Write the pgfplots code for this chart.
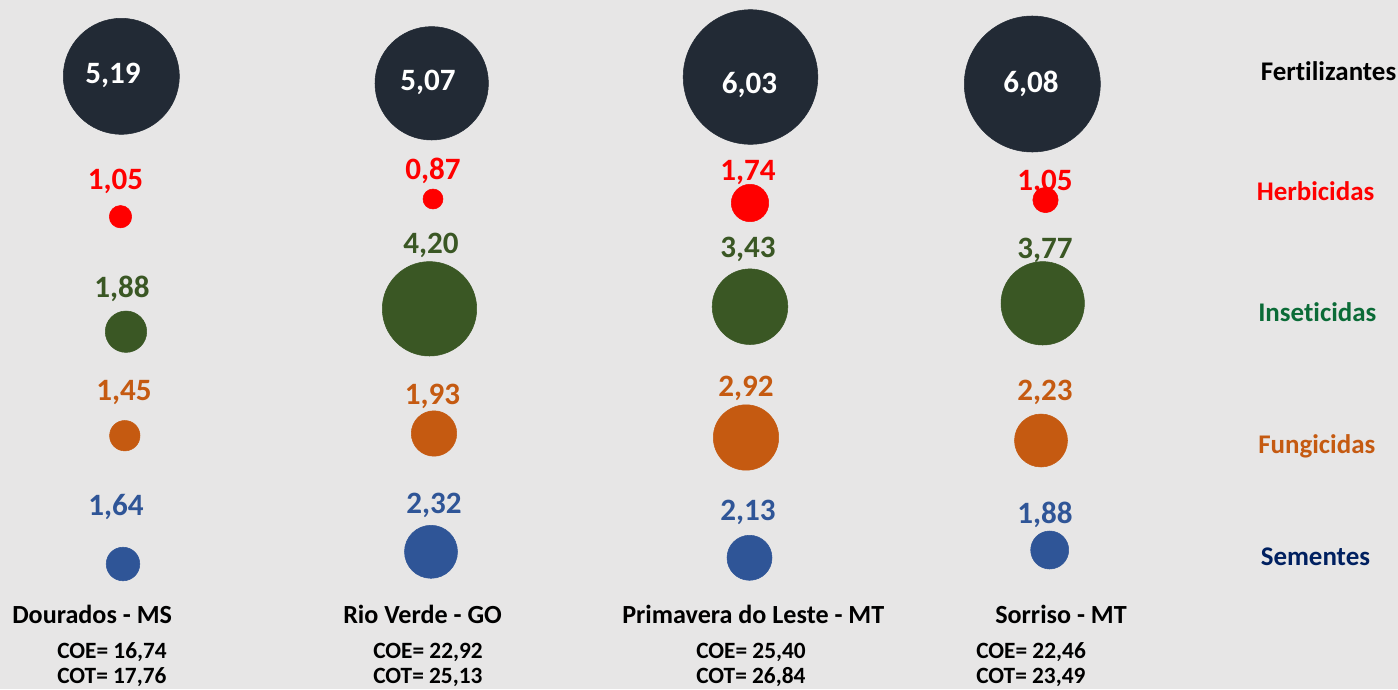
\documentclass[border=0pt]{standalone}
\usepackage{pgfplots}
\pgfplotsset{compat=1.18}
\usepackage{fontspec}
\setmainfont{Carlito}[Ligatures=NoCommon]
\definecolor{bgcol}{HTML}{E7E6E6}
\definecolor{fertcol}{HTML}{222A35}
\definecolor{herbcol}{HTML}{FF0000}
\definecolor{insectcol}{HTML}{3A5724}
\definecolor{insectlab}{HTML}{0B6B37}
\definecolor{fungcol}{HTML}{C55A11}
\definecolor{semcol}{HTML}{2F5597}
\definecolor{semlab}{HTML}{002060}

% bubble centres (px), radius (px), value label position (px) and value
\pgfplotstableread{
x y r lx ly v
121.3 76.3 58.0 113 83.3 5,19
431.7 83.3 56.7 428 90.7 5,07
750.5 77.0 67.3 749.5 93 6,03
1032.3 84.0 68.0 1031 92 6,08
}\fert
\pgfplotstableread{
x y r lx ly v
120.5 216.7 11.2 115.5 189 1,05
433 199 10.0 433 179 0,87
750 203 18.7 748 180 1,74
1045.5 200 12.7 1045 190 1,05
}\herb
\pgfplotstableread{
x y r lx ly v
126 331.7 20.7 122 297 1,88
429.5 308.8 47.2 431 253 4,20
750 306.7 37.8 748 257 3,43
1042.7 303.3 41.7 1045 258 3,77
}\insect
\pgfplotstableread{
x y r lx ly v
124.8 435.7 15.2 124 400 1,45
434 433.5 22.7 432.5 404 1,93
746 437.5 32.7 746 396 2,92
1041 440.5 26.5 1045 400 2,23
}\fung
\pgfplotstableread{
x y r lx ly v
123 564 16.8 116 515 1,64
431 551.8 26.5 434 513 2,32
749.5 557.8 22.5 748 520.7 2,13
1049.7 550 19.0 1045 523 1,88
}\sem

\pgfplotsset{
  bubble/.style={scatter, only marks, mark=*, point meta=y, color=#1,
    mark options={draw=none, fill=#1},
    visualization depends on={0.75*\thisrow{r} \as \rad},
    scatter/@pre marker code/.code={\scope[mark size=\rad pt, fill=#1, draw=none]},
    scatter/@post marker code/.code={\endscope}},
  vlabel/.style={draw=none, mark=none, point meta=explicit symbolic,
    nodes near coords,
    nodes near coords style={anchor=base, inner sep=0pt, text=#1,
      font=\fontsize{23.3}{28}\selectfont\bfseries}},
}

\begin{document}
\begin{tikzpicture}
\begin{axis}[
  width=1048.5pt, height=516.75pt, scale only axis,
  xmin=0, xmax=1398, ymin=0, ymax=689, y dir=reverse,
  axis line style={draw=none}, xtick=\empty, ytick=\empty,
  axis background/.style={fill=bgcol},
  clip=false,
]
\addplot[bubble=fertcol] table[x=x,y=y] {\fert};
\addplot[bubble=herbcol] table[x=x,y=y] {\herb};
\addplot[bubble=insectcol] table[x=x,y=y] {\insect};
\addplot[bubble=fungcol] table[x=x,y=y] {\fung};
\addplot[bubble=semcol] table[x=x,y=y] {\sem};

\addplot[vlabel=white] table[x=lx,y=ly,meta=v] {\fert};
\addplot[vlabel=herbcol] table[x=lx,y=ly,meta=v] {\herb};
\addplot[vlabel=insectcol] table[x=lx,y=ly,meta=v] {\insect};
\addplot[vlabel=fungcol] table[x=lx,y=ly,meta=v] {\fung};
\addplot[vlabel=semcol] table[x=lx,y=ly,meta=v] {\sem};

\begin{scope}[every node/.style={inner sep=0pt, anchor=base west, font=\fontsize{20.2}{24}\selectfont\bfseries}]
\node[text=black] at (axis cs:1260.5,80.7) {Fertilizantes};
\node[text=herbcol] at (axis cs:1256.5,200.7) {Herbicidas};
\node[text=insectlab] at (axis cs:1258,321.7) {Inseticidas};
\node[text=fungcol] at (axis cs:1258,453.3) {Fungicidas};
\node[text=semlab] at (axis cs:1260.5,565) {Sementes};
\end{scope}
\begin{scope}[every node/.style={inner sep=0pt, anchor=base west, font=\fontsize{19.6}{23}\selectfont\bfseries}]
\node at (axis cs:12,623.5) {Dourados - MS};
\node at (axis cs:343,623.5) {Rio Verde - GO};
\node at (axis cs:622,623.5) {Primavera do Leste - MT};
\node at (axis cs:995,623.5) {Sorriso - MT};
\end{scope}
\begin{scope}[every node/.style={inner sep=0pt, anchor=base west, font=\fontsize{17.5}{21}\selectfont\bfseries}]
\node at (axis cs:57,658.3) {COE= 16,74};
\node at (axis cs:57,683.3) {COT= 17,76};
\node at (axis cs:373,658.3) {COE= 22,92};
\node at (axis cs:373,683.3) {COT= 25,13};
\node at (axis cs:696,658.3) {COE= 25,40};
\node at (axis cs:696,683.3) {COT= 26,84};
\node at (axis cs:976,658.3) {COE= 22,46};
\node at (axis cs:976,683.3) {COT= 23,49};
\end{scope}
\end{axis}
\pgfresetboundingbox
\useasboundingbox (current axis.south west) rectangle (current axis.north east);
\end{tikzpicture}
\end{document}
